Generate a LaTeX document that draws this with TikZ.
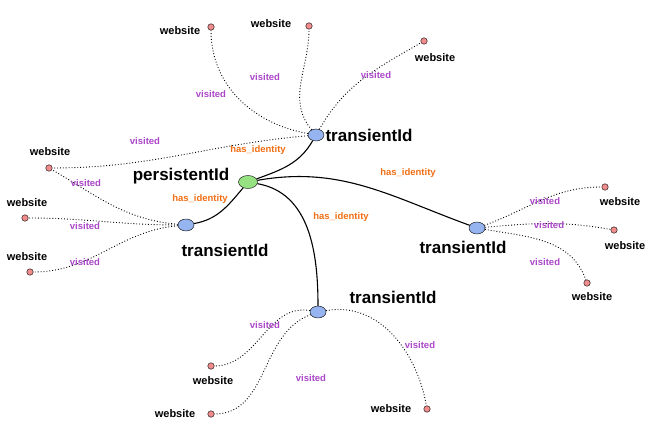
\documentclass[tikz,border=0pt]{standalone}
\usepackage{fontspec}
\setmainfont{Liberation Sans}
\usetikzlibrary{shapes.geometric}
\definecolor{tblue}{RGB}{150,180,240}
\definecolor{pgreen}{RGB}{150,225,130}
\definecolor{wred}{RGB}{240,140,140}
\definecolor{vpurple}{RGB}{170,70,200}
\definecolor{horange}{RGB}{240,110,20}
\begin{document}
\begin{tikzpicture}[x=1pt,y=-1pt,
 tnode/.style={ellipse,draw=black,fill=tblue,minimum width=16pt,minimum height=12pt,inner sep=0pt},
 web/.style={circle,draw=black,fill=wred,minimum size=6.5pt,inner sep=0pt},
 big/.style={font=\fontsize{17}{19}\selectfont\bfseries},
 wl/.style={font=\fontsize{11}{12}\selectfont\bfseries},
 vis/.style={font=\fontsize{9.5}{10}\selectfont\bfseries,text=vpurple},
 hid/.style={font=\fontsize{9.5}{10}\selectfont\bfseries,text=horange},
 dot/.style={dotted,line width=0.9pt},
 sol/.style={line width=1.1pt}]
\useasboundingbox (0,0) rectangle (660,430);
\node[ellipse,draw=black,fill=pgreen,minimum width=19pt,minimum height=13pt,inner sep=0pt] (p) at (248,182) {};
\node[tnode] (t1) at (316,135) {};
\node[tnode] (t2) at (186,225) {};
\node[tnode] (t3) at (477,228) {};
\node[tnode] (t4) at (318,312) {};
\foreach \n/\x/\y in {a/211/27,b/309/26,c/424/41,d/49/168,e/25/218,f/30/272,g/605/187,h/614/230,i/587/283,j/211/366,k/211/414,l/427/409}
  \node[web] (\n) at (\x,\y) {};
\node[big] at (181,176) {persistentId};
\node[big] at (369,135) {transientId};
\node[big] at (225,250) {transientId};
\node[big] at (463,247) {transientId};
\node[big] at (393,297) {transientId};
\foreach \x/\y/\n in {180/31/a,271/24/b,435/58/c,50/152/d,27/203/e,27/257/f,620/202/g,625/246/h,592/297/i,213/381/j,175/414/k,391/409/l}
  \node[wl] (w\n) at (\x,\y) {website};
\draw[sol] (p) to[out=20,in=-120] (t1);
\draw[sol] (p) to[out=-130,in=10] (t2);
\draw[sol] (p) to[out=10,in=160] (t3);
\draw[sol] (p) to[out=-10,in=90] (t4);
\node[hid] at (258,150) {has\_identity};
\node[hid] at (200,199) {has\_identity};
\node[hid] at (408,173) {has\_identity};
\node[hid] at (341,217) {has\_identity};
\draw[dot] (t1) to[out=170,in=-90] (a);
\draw[dot] (t1) to[out=130,in=-90] (b);
\draw[dot] (t1) to[out=60,in=-150] (c);
\draw[dot] (t1) to[out=-175,in=0] (d);
\draw[dot] (t2) to[out=175,in=-30] (d);
\draw[dot] (t2) to[out=180,in=0] (e);
\draw[dot] (t2) to[out=185,in=0] (f);
\draw[dot] (t3) to[out=20,in=180] (g);
\draw[dot] (t3) to[out=5,in=170] (h);
\draw[dot] (t3) to[out=-10,in=110] (i);
\draw[dot] (t4) to[out=170,in=0] (j);
\draw[dot] (t4) to[out=200,in=0] (k);
\draw[dot] (t4) to[out=10,in=100] (l);
\foreach \x/\y in {211/94,265/77,376/75,145/141,86/183,85/226,85/262,545/201,549/225,545/262,265/325,311/378,420/345}
  \node[vis] at (\x,\y) {visited};
\end{tikzpicture}
\end{document}
